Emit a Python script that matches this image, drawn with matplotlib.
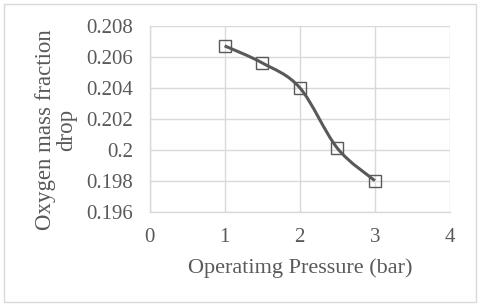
import matplotlib
matplotlib.use("Agg")
import matplotlib.pyplot as plt
import numpy as np
from matplotlib.path import Path
from matplotlib.patches import PathPatch, Rectangle

pressure = [1.0, 1.5, 2.0, 2.5, 3.0]
o2_drop = [0.2067, 0.2056, 0.2040, 0.2001, 0.1980]
x_ticks = [0, 1, 2, 3, 4]
y_ticks = [0.196, 0.198, 0.2, 0.202, 0.204, 0.206, 0.208]
y_tick_labels = ["0.196", "0.198", "0.2", "0.202", "0.204", "0.206", "0.208"]

plt.rcParams['font.family'] = ['Liberation Serif', 'DejaVu Serif']
txt = '#595959'
grid = '#d9d9d9'

fig = plt.figure(figsize=(4.8, 3.06), dpi=100)
ax = fig.add_axes([149.5/480, 1-211.7/306, (450-149.5)/480, (211.7-25.7)/306])

# Excel-like smoothed curve (Catmull-Rom as cubic Bezier)
xs = np.array(pressure); ys = np.array(o2_drop)
n = len(xs)
verts = [(xs[0], ys[0])]
codes = [Path.MOVETO]
for i in range(n-1):
    p0 = np.array([xs[max(i-1, 0)], ys[max(i-1, 0)]])
    p1 = np.array([xs[i], ys[i]])
    p2 = np.array([xs[i+1], ys[i+1]])
    p3 = np.array([xs[min(i+2, n-1)], ys[min(i+2, n-1)]])
    c1 = p1 + (p2 - p0) / 6
    c2 = p2 - (p3 - p1) / 6
    verts += [tuple(c1), tuple(c2), tuple(p2)]
    codes += [Path.CURVE4]*3
ax.add_patch(PathPatch(Path(verts, codes), fill=False, edgecolor='#595959', lw=2.2, zorder=3))
ax.plot(pressure, o2_drop, linestyle='none', marker='s', markersize=8.5,
        markerfacecolor='none', markeredgecolor='#595959', markeredgewidth=1.0, zorder=4)

ax.set_xlim(0, 4)
ax.set_ylim(0.196, 0.208)
ax.set_xticks(x_ticks)
ax.set_yticks(y_ticks)
ax.set_yticklabels(y_tick_labels)
ax.grid(True, color=grid, lw=1.0)
ax.set_axisbelow(True)
for s in ['top', 'right']:
    ax.spines[s].set_visible(False)
for s in ['left', 'bottom']:
    ax.spines[s].set_color(grid)
    ax.spines[s].set_linewidth(1.0)
ax.tick_params(axis='y', length=0, labelsize=15, colors=txt, pad=12)
ax.tick_params(axis='x', length=0, labelsize=15, colors=txt, pad=12)
ax.set_xlabel('Operatimg Pressure (bar)', fontsize=16, color=txt, labelpad=8)
fig.text(56/480, 1-129.5/306, 'Oxygen mass fraction\ndrop', rotation=90,
         ha='center', va='center', multialignment='center',
         fontsize=16.5, color=txt, linespacing=1.05)

fig.patches.append(Rectangle((4/480, 4/306), 472/480, 298/306, transform=fig.transFigure,
                             fill=False, edgecolor='#d9d9d9', lw=1.0))
fig.savefig('out.png', dpi=100)
